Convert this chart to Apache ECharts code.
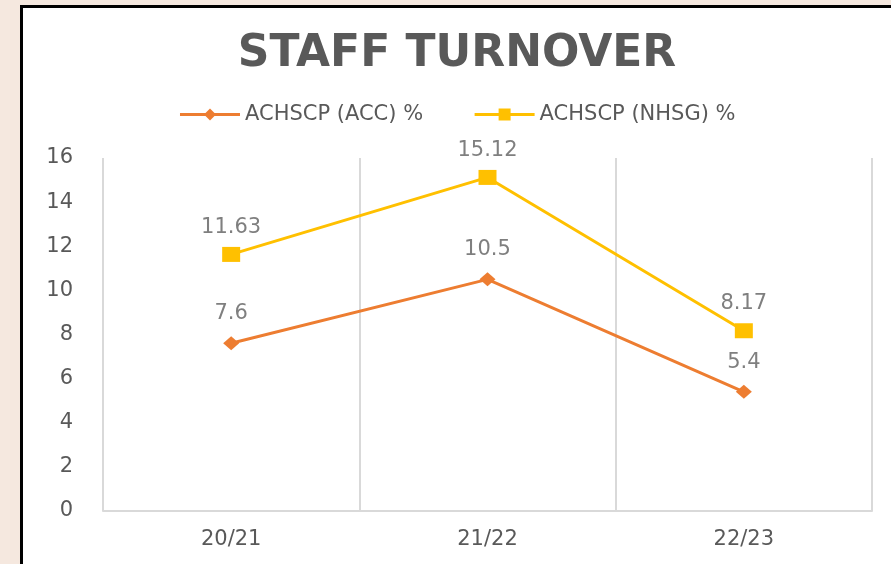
<!DOCTYPE html>
<html>
<head>
<meta charset="utf-8">
<script src="https://cdn.jsdelivr.net/npm/echarts@6/dist/echarts.min.js"></script>
<style>
  html, body { margin: 0; padding: 0; background: #F5E8DF; }
  body { width: 891px; height: 564px; overflow: hidden; position: relative; }
  #frame {
    position: absolute; left: 20px; top: 5px; width: 871px; height: 559px;
    border-left: 3px solid #000; border-top: 3px solid #000; background: #fff;
  }
  #main { width: 868px; height: 556px; }
</style>
</head>
<body>
<div id="frame"><div id="main"></div></div>
<script>
// 数据
const years = ['20/21', '21/22', '22/23'];
const accValues = [7.6, 10.5, 5.4];
const nhsgValues = [11.63, 15.12, 8.17];

const myChart = echarts.init(document.getElementById('main'));

const font = 'DejaVu Sans';

myChart.setOption({
    backgroundColor: '#fff',
    title: {
        text: 'STAFF TURNOVER',
        left: 'center',
        top: 20,
        textStyle: {
            fontFamily: font,
            fontWeight: 'bold',
            fontSize: 44,
            color: '#595959'
        }
    },
    legend: {
        top: 91,
        left: 'center',
        itemWidth: 60,
        itemHeight: 15,
        itemGap: 50,
        lineStyle: { width: 3 },
        textStyle: { fontSize: 21, color: '#595959', fontFamily: font }
    },
    grid: { left: 80, right: 19, top: 150, bottom: 53 },
    xAxis: {
        type: 'category',
        data: years,
        boundaryGap: true,
        axisLine: { lineStyle: { color: '#D9D9D9', width: 2 } },
        axisTick: { show: false },
        splitLine: { show: true, lineStyle: { color: '#D9D9D9', width: 2 } },
        axisLabel: { fontSize: 21, color: '#595959', margin: 18, fontFamily: font }
    },
    yAxis: {
        type: 'value',
        min: 0,
        max: 16,
        interval: 2,
        axisLine: { show: false },
        axisTick: { show: false },
        splitLine: { show: false },
        axisLabel: { fontSize: 21, color: '#595959', margin: 30, fontFamily: font }
    },
    series: [
        {
            name: 'ACHSCP (ACC) %',
            type: 'line',
            data: accValues,
            symbol: 'diamond',
            symbolSize: [16, 14],
            lineStyle: { color: '#ED7D31', width: 3 },
            itemStyle: { color: '#ED7D31' },
            label: {
                show: true, position: 'top', distance: 12,
                fontSize: 21, color: '#7F7F7F', fontFamily: font
            }
        },
        {
            name: 'ACHSCP (NHSG) %',
            type: 'line',
            data: nhsgValues,
            symbol: 'rect',
            symbolSize: [18, 15],
            lineStyle: { color: '#FFC000', width: 3 },
            itemStyle: { color: '#FFC000' },
            label: {
                show: true, position: 'top', distance: 9,
                fontSize: 21, color: '#7F7F7F', fontFamily: font
            }
        }
    ]
});
</script>
</body>
</html>
